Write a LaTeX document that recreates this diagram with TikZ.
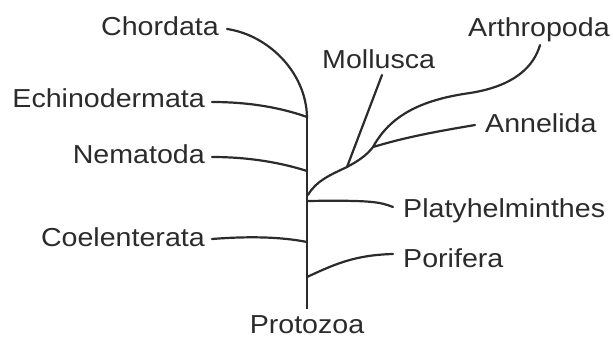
\documentclass[tikz,border=0pt]{standalone}
\usepackage{fontspec}
\setmainfont{Liberation Sans}
\newfontfamily\lblfont[FakeStretch=1.1]{Liberation Sans}
\definecolor{ink}{HTML}{2B2B2B}
\begin{document}
\begin{tikzpicture}[x=1pt,y=-1pt,
  lbl/.style={font=\lblfont\fontsize{26}{28}\selectfont, text=ink, inner sep=0pt},
  branch/.style={draw=ink, line width=2.2pt, line cap=round},
  trunkline/.style={draw=ink, line width=2.7pt}]
\useasboundingbox (0,0) rectangle (613,337);
% labels
\node[lbl, anchor=base east] (chor) at (219,36) {Chordata};
\node[lbl, anchor=base east] (echi) at (205,107) {Echinodermata};
\node[lbl, anchor=base east] (nema) at (205,163) {Nematoda};
\node[lbl, anchor=base east] (coel) at (205,246) {Coelenterata};
\node[lbl, anchor=base west] (moll) at (322,68) {Mollusca};
\node[lbl, anchor=base west] (arth) at (468,37) {Arthropoda};
\node[lbl, anchor=base west] (anne) at (485,132) {Annelida};
\node[lbl, anchor=base west] (plat) at (403,217) {Platyhelminthes};
\node[lbl, anchor=base west] (pori) at (403,267) {Porifera};
\node[lbl, anchor=base] (prot) at (307,333) {Protozoa};
% branch points
\coordinate (ttop) at (307,117);
\coordinate (tnem) at (307,171);
\coordinate (tright) at (308,195);
\coordinate (tplat) at (307,201);
\coordinate (tcoel) at (307,242);
\coordinate (tpori) at (307,277);
\coordinate (tbot) at (307,309);
\coordinate (fmoll) at (347,167);
\coordinate (farth) at (373,147);
% free ends
\coordinate (echord) at (227,29);
\coordinate (eechi) at (212,102);
\coordinate (enema) at (212,157);
\coordinate (ecoel) at (212,239);
\coordinate (emoll) at (382,75);
\coordinate (earth) at (540,45);
\coordinate (eanne) at (475,125);
\coordinate (eplat) at (393,207);
\coordinate (epori) at (393,254);
% trunk
\draw[trunkline] (ttop) -- (tbot);
\draw[branch] (echord) .. controls (268,35) and (306,72) .. (ttop);
\draw[branch] (eechi) .. controls (250,102) and (282,108) .. (ttop);
\draw[branch] (enema) .. controls (250,157) and (282,163) .. (tnem);
\draw[branch] (ecoel) .. controls (250,236) and (282,237) .. (tcoel);
\draw[branch] (tplat) .. controls (372,200) and (380,202) .. (eplat);
\draw[branch] (tpori) .. controls (335,264) and (355,255) .. (epori);
\draw[branch] (tright) .. controls (316,181) and (330,175) .. (fmoll)
  .. controls (358,161) and (366,156) .. (farth);
\draw[branch] (fmoll) -- (emoll);
\draw[branch] (farth) .. controls (410,136) and (440,131) .. (eanne);
\draw[branch] (farth) .. controls (390,116) and (420,100) .. (470,93)
  .. controls (515,86) and (534,66) .. (earth);
\end{tikzpicture}
\end{document}
